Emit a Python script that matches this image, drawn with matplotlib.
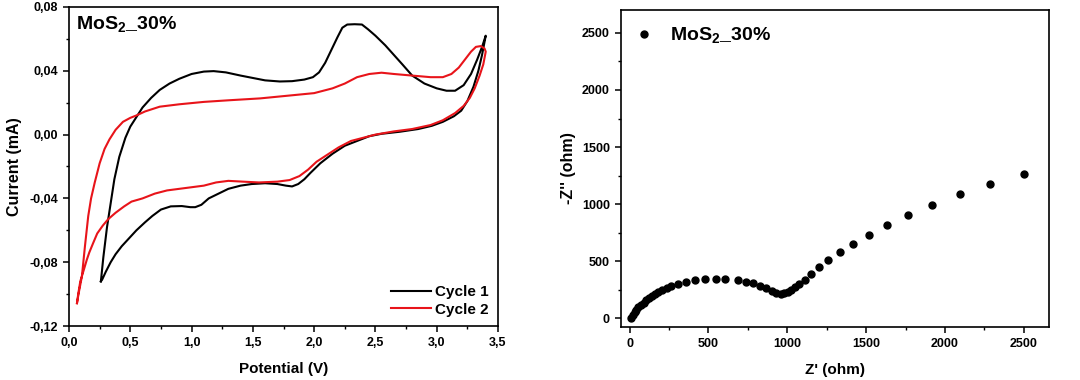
import matplotlib
matplotlib.use("Agg")
import matplotlib.pyplot as plt
from matplotlib.ticker import MultipleLocator, FuncFormatter

plt.rcParams['font.family'] = ['Liberation Sans', 'DejaVu Sans']
plt.rcParams['font.weight'] = 'bold'
plt.rcParams['mathtext.fontset'] = 'custom'
plt.rcParams['mathtext.rm'] = 'Liberation Sans:bold'
plt.rcParams['mathtext.bf'] = 'Liberation Sans:bold'

# ---------------- CV data (Potential V, Current mA) ----------------
cycle1_v = [0.26, 0.28, 0.31, 0.34, 0.37, 0.41, 0.46, 0.50, 0.55, 0.60, 0.67, 0.74, 0.82, 0.90,
            1.00, 1.10, 1.18, 1.28, 1.40, 1.50, 1.60, 1.72, 1.82, 1.92, 1.99, 2.04, 2.09, 2.14,
            2.19, 2.23, 2.27, 2.33, 2.39, 2.44, 2.50, 2.58, 2.65, 2.72, 2.80, 2.90, 3.00, 3.08,
            3.15, 3.22, 3.28, 3.33, 3.37, 3.40,
            3.37, 3.34, 3.30, 3.25, 3.20, 3.14, 3.05, 2.96, 2.85, 2.70, 2.55, 2.45, 2.35, 2.25,
            2.15, 2.05, 1.97, 1.92, 1.87, 1.82, 1.77, 1.70, 1.60, 1.49, 1.40, 1.30, 1.22, 1.14,
            1.08, 1.03, 0.99, 0.92, 0.83, 0.75, 0.68, 0.62, 0.55, 0.49, 0.43, 0.38, 0.34, 0.30,
            0.27, 0.26]
cycle1_i = [-0.092, -0.077, -0.058, -0.043, -0.028, -0.014, -0.002, 0.005, 0.011, 0.017, 0.023,
            0.028, 0.032, 0.035, 0.038, 0.0395, 0.0398, 0.039, 0.037, 0.0355, 0.034, 0.0333,
            0.0335, 0.0345, 0.036, 0.039, 0.045, 0.053, 0.061, 0.067, 0.069, 0.0692, 0.069,
            0.066, 0.062, 0.056, 0.050, 0.044, 0.037, 0.032, 0.029, 0.0275, 0.0275, 0.031,
            0.038, 0.047, 0.055, 0.062,
            0.050, 0.040, 0.030, 0.021, 0.015, 0.0115, 0.008, 0.0055, 0.0035, 0.0018, 0.0005,
            -0.001, -0.004, -0.007, -0.012, -0.018, -0.024, -0.028, -0.031, -0.0325, -0.032,
            -0.031, -0.0305, -0.031, -0.032, -0.034, -0.037, -0.040, -0.044, -0.0455, -0.0455,
            -0.0448, -0.045, -0.047, -0.051, -0.055, -0.060, -0.065, -0.070, -0.075, -0.080,
            -0.086, -0.091, -0.092]

cycle2_v = [0.065, 0.08, 0.105, 0.13, 0.157, 0.18, 0.21, 0.25, 0.29, 0.33, 0.38, 0.44, 0.50, 0.55,
            0.62, 0.74, 0.90, 1.10, 1.30, 1.56, 1.80, 2.00, 2.05, 2.15, 2.25, 2.35, 2.45, 2.55,
            2.65, 2.80, 2.95, 3.05, 3.12, 3.18, 3.23, 3.28, 3.32, 3.36, 3.39, 3.40,
            3.38, 3.35, 3.31, 3.27, 3.22, 3.15, 3.05, 2.95, 2.80, 2.65, 2.50, 2.40, 2.30, 2.20,
            2.10, 2.02, 1.95, 1.88, 1.80, 1.70, 1.55, 1.42, 1.30, 1.20, 1.10, 1.00, 0.90, 0.80,
            0.70, 0.60, 0.51, 0.45, 0.38, 0.32, 0.276, 0.23, 0.197, 0.165, 0.145, 0.12, 0.092,
            0.075, 0.065]
cycle2_i = [-0.1057, -0.099, -0.089, -0.070, -0.051, -0.040, -0.030, -0.018, -0.009, -0.003,
            0.003, 0.008, 0.0105, 0.012, 0.0145, 0.0175, 0.019, 0.0205, 0.0215, 0.0227, 0.0245,
            0.026, 0.027, 0.029, 0.032, 0.036, 0.038, 0.0388, 0.038, 0.037, 0.036, 0.036, 0.038,
            0.042, 0.047, 0.052, 0.055, 0.0555, 0.054, 0.052,
            0.044, 0.037, 0.029, 0.023, 0.018, 0.0135, 0.009, 0.006, 0.0035, 0.002, 0.0, -0.002,
            -0.004, -0.008, -0.013, -0.017, -0.022, -0.026, -0.0285, -0.0295, -0.030, -0.0295,
            -0.029, -0.030, -0.032, -0.033, -0.034, -0.035, -0.037, -0.040, -0.042, -0.045,
            -0.049, -0.053, -0.057, -0.062, -0.068, -0.074, -0.0785, -0.085, -0.092, -0.100,
            -0.1057]

# ---------------- EIS data (Z' ohm, -Z'' ohm) ----------------
z_real = [10, 21, 31, 43, 56, 72, 89, 106, 124, 143, 161, 182, 207, 234, 263, 306, 358, 416,
          478, 545, 605, 685, 739, 781, 824, 863, 901, 930, 957, 979, 1004, 1025, 1050, 1072,
          1110, 1150, 1203, 1260, 1334, 1419, 1517, 1634, 1767, 1918, 2094, 2288, 2504]
z_imag = [0, 29, 53, 74, 97, 118, 138, 162, 182, 200, 218, 235, 250, 268, 285, 303, 321, 335,
          344, 347, 347, 335, 321, 306, 288, 268, 244, 226, 218, 221, 232, 253, 276, 300,
          340, 391, 447, 512, 578, 652, 730, 814, 903, 995, 1086, 1176, 1261]

sample_label = r"MoS$_\mathbf{2}$_30%"
cv_labels = ["Cycle 1", "Cycle 2"]

fig = plt.figure(figsize=(10.8, 3.8), dpi=100)
ax1 = fig.add_axes([0.0639, 0.1421, 0.3972, 0.8395])
ax2 = fig.add_axes([0.575, 0.1395, 0.3963, 0.8342])

def style(ax):
    for s in ax.spines.values():
        s.set_linewidth(1.2)
    ax.tick_params(which='major', direction='out', length=4.5, width=1.1, labelsize=9)
    ax.tick_params(which='minor', direction='out', length=2.5, width=1.0)
    for lab in ax.get_xticklabels() + ax.get_yticklabels():
        lab.set_fontweight('bold')

# ---- left: CV ----
ax1.plot(cycle1_v, cycle1_i, color='black', lw=1.5, label=cv_labels[0])
ax1.plot(cycle2_v, cycle2_i, color='#e8141a', lw=1.5, label=cv_labels[1])
ax1.set_xlim(0, 3.5)
ax1.set_ylim(-0.12, 0.08)
ax1.xaxis.set_major_locator(MultipleLocator(0.5))
ax1.xaxis.set_minor_locator(MultipleLocator(0.25))
ax1.yaxis.set_major_locator(MultipleLocator(0.04))
ax1.yaxis.set_minor_locator(MultipleLocator(0.02))
ax1.xaxis.set_major_formatter(FuncFormatter(lambda v, p: f"{v:.1f}".replace('.', ',')))
ax1.yaxis.set_major_formatter(FuncFormatter(
    lambda v, p: ("0,00" if abs(v) < 1e-9 else f"{v:.2f}".replace('.', ','))))
ax1.set_xlabel("Potential (V)", fontsize=11, fontweight='bold', labelpad=9)
ax1.set_ylabel("Current (mA)", fontsize=11.5, fontweight='bold', labelpad=5)
ax1.text(0.016, 0.975, sample_label, transform=ax1.transAxes, fontsize=14,
         fontweight='bold', va='top', ha='left')
ax1.legend(loc='lower right', frameon=False, handlelength=2.6,
           handletextpad=0.3, labelspacing=0.25, borderaxespad=0.2,
           prop={'weight': 'bold', 'size': 11})
style(ax1)

# ---- right: EIS ----
ax2.plot(z_real, z_imag, 'o', color='black', ms=5, label=sample_label)
ax2.set_xlim(-55, 2660)
ax2.set_ylim(-75, 2700)
ax2.xaxis.set_major_locator(MultipleLocator(500))
ax2.xaxis.set_minor_locator(MultipleLocator(250))
ax2.yaxis.set_major_locator(MultipleLocator(500))
ax2.yaxis.set_minor_locator(MultipleLocator(250))
ax2.set_xlabel("Z' (ohm)", fontsize=11, fontweight='bold', labelpad=9)
ax2.set_ylabel("-Z'' (ohm)", fontsize=11.5, fontweight='bold', labelpad=4)
ax2.legend(loc='upper left', frameon=False, handlelength=0.8, handletextpad=0.9,
           borderaxespad=0.4, prop={'weight': 'bold', 'size': 14})
style(ax2)

fig.savefig("out.png", dpi=100)
